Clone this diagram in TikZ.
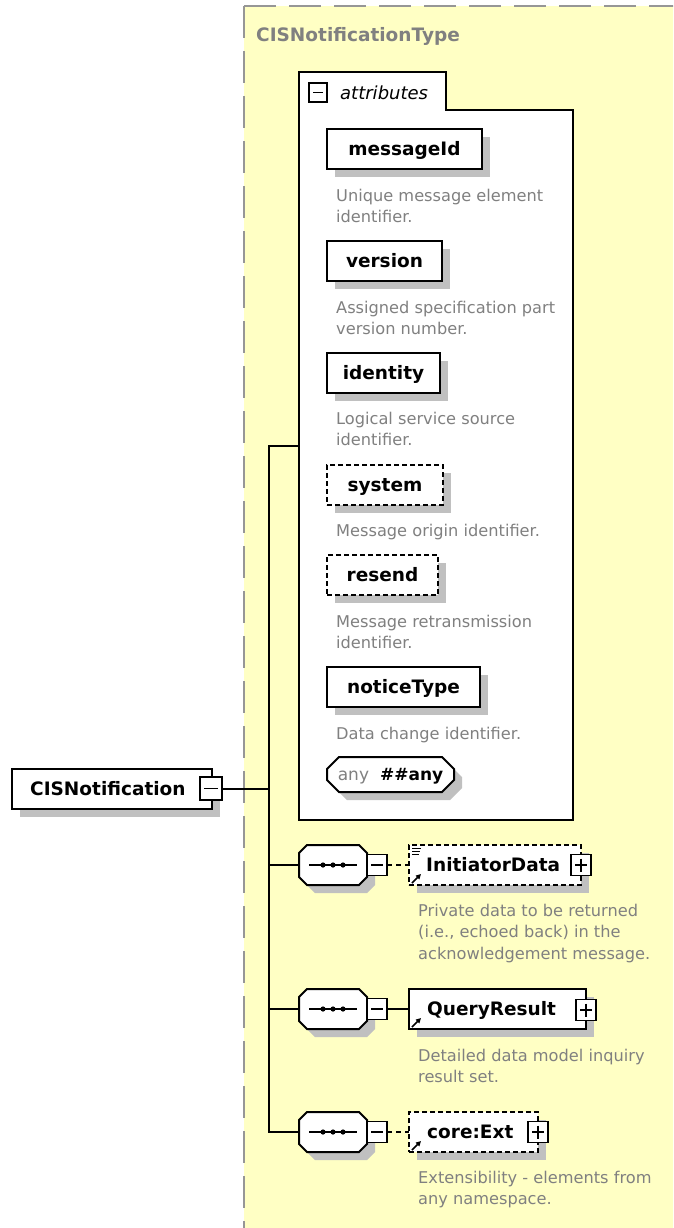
\documentclass[tikz,border=0pt]{standalone}
\usepackage{fontspec}
\setmainfont{DejaVu Sans}
\usetikzlibrary{shapes.misc,shadows,arrows.meta}

\definecolor{typebg}{RGB}{255,255,196}
\definecolor{typeframe}{RGB}{150,150,150}
\definecolor{shadegray}{RGB}{192,192,192}
\definecolor{notegray}{RGB}{128,128,128}

% multi-line annotations: the node's baseline is the first line's baseline
\newcommand\notetwo[2]{\vtop{\baselineskip=21.5pt\hbox{#1}\hbox{#2}}}
\newcommand\notethree[3]{\vtop{\baselineskip=21.5pt\hbox{#1}\hbox{#2}\hbox{#3}}}

% octagon outline around a rectangular node (#1 = node, #2 = corner cut)
\newcommand\octpath[2]{([xshift=#2]#1.north west) -- ([xshift=-#2]#1.north east)
  -- ([yshift=-#2]#1.north east) -- ([yshift=#2]#1.south east)
  -- ([xshift=-#2]#1.south east) -- ([xshift=#2]#1.south west)
  -- ([yshift=#2]#1.south west) -- ([yshift=-#2]#1.north west) -- cycle}

\tikzset{
  conn/.style={line width=2pt, draw=black},
  shade8/.style={drop shadow={shadow xshift=8pt, shadow yshift=-8pt, fill=shadegray, opacity=1}},
  elem/.style={draw=black, line width=2pt, fill=white, inner sep=0pt, outer sep=0pt, shade8},
  optional/.style={dash pattern=on 5pt off 3pt},
  tag/.style={font=\fontsize{18.5}{22}\selectfont\bfseries, text height=13.5pt, text depth=0pt, inner sep=0pt},
  note/.style={font=\fontsize{16.2}{21.5}\selectfont, text=notegray, inner sep=0pt, anchor=base west},
  sqbox/.style={draw=black, line width=1.5pt, fill=white, minimum width=20pt, minimum height=21pt, inner sep=0pt, outer sep=0pt},
  minusbox/.style={sqbox, path picture={
      \draw[black, line width=1.5pt] ([xshift=4pt]path picture bounding box.west) -- ([xshift=-4pt]path picture bounding box.east);}},
  plusbox/.style={sqbox, path picture={
      \draw[black, line width=1.5pt] ([xshift=4pt]path picture bounding box.west) -- ([xshift=-4pt]path picture bounding box.east);
      \draw[black, line width=1.5pt] ([yshift=-4pt]path picture bounding box.north) -- ([yshift=4pt]path picture bounding box.south);}},
  seqspot/.style={inner sep=0pt, outer sep=0pt, minimum width=68pt, minimum height=40pt},
  seqframe/.style={elem, path picture={
        \draw[black, line width=1.5pt] ([xshift=-24pt]path picture bounding box.center) -- ([xshift=24pt]path picture bounding box.center);
        \foreach \dx in {-10,0,10} \fill[black] ([xshift=\dx pt]path picture bounding box.center) circle (2.6pt);}},
  refarrow/.style={line width=1.6pt, -{Triangle[length=5pt,width=5pt]}},
}

\begin{document}
\begin{tikzpicture}[x=1pt, y=-1pt]
\useasboundingbox (0,0) rectangle (673,1228);
\clip (0,0) rectangle (673,1228);

% complex type area
\fill[typebg] (244,6) rectangle (690,1240);
\draw[typeframe, line width=2pt, dash pattern=on 32pt off 13pt] (244,6) -- (244,1240);
\draw[typeframe, line width=2pt, dash pattern=on 32pt off 13pt] (244,6) -- (690,6);
\node[tag, text=notegray, anchor=west] (typename) at (256,34.5) {CISNotificationType};

% attribute group
\node[inner sep=0pt, outer sep=0pt, minimum width=274pt, minimum height=748pt, anchor=north west] (attr) at (299,72) {};
\draw[line width=2pt, fill=white] (attr.north west) -- ++(147,0) -- ++(0,38) -| (attr.south east) -- (attr.south west) -- cycle;
\node[minusbox, minimum width=18pt, minimum height=19pt] (attrminus) at (318,92.5) {};
\node[font=\fontsize{18}{22}\selectfont\itshape, inner sep=0pt, anchor=west] (attrtitle) at (340,93) {attributes};

\node[elem, tag, minimum width=155pt, minimum height=40pt, anchor=north west] (msgid) at (327,129) {messageId};
\node[note] (msgidnote) at (336,201) {\notetwo{Unique message element}{identifier.}};

\node[elem, tag, minimum width=115pt, minimum height=40pt, anchor=north west] (version) at (327,241) {version};
\node[note] (versionnote) at (336,313) {\notetwo{Assigned specification part}{version number.}};

\node[elem, tag, minimum width=113pt, minimum height=40pt, anchor=north west] (identity) at (327,353) {identity};
\node[note] (identitynote) at (336,424) {\notetwo{Logical service source}{identifier.}};

\node[elem, optional, tag, minimum width=116pt, minimum height=40pt, anchor=north west] (system) at (327,465) {system};
\node[note] (systemnote) at (336,536) {Message origin identifier.};

\node[elem, optional, tag, minimum width=111pt, minimum height=40pt, anchor=north west] (resend) at (327,555) {resend};
\node[note] (resendnote) at (336,627) {\notetwo{Message retransmission}{identifier.}};

\node[elem, tag, minimum width=153pt, minimum height=40pt, anchor=north west] (notice) at (327,667) {noticeType};
\node[note] (noticenote) at (336,739) {Data change identifier.};

\node[elem, chamfered rectangle, chamfered rectangle xsep=6pt, chamfered rectangle ysep=6pt,
      minimum width=127pt, minimum height=35pt, font=\fontsize{17}{20}\selectfont, text height=12.5pt, text depth=0pt]
      (anyattr) at (390.5,774.5) {{\color{notegray}any}\hspace{11pt}{\bfseries\#\#any}};

% root element
\node[elem, minimum width=200pt, minimum height=40pt, anchor=north west] (root) at (12,769) {};
\node[tag, anchor=west] (roottext) at (30,789) {CISNotification};
\node[minusbox, minimum width=22pt, minimum height=23pt] (rootminus) at (211,788.5) {};

% sequence compositors
\node[seqspot] (seq1) at (333,865) {};
\draw[seqframe] \octpath{seq1}{8pt};
\node[minusbox, anchor=west] (seq1minus) at (seq1.east) {};
\node[seqspot] (seq2) at (333,1009) {};
\draw[seqframe] \octpath{seq2}{8pt};
\node[minusbox, anchor=west] (seq2minus) at (seq2.east) {};
\node[seqspot] (seq3) at (333,1132) {};
\draw[seqframe] \octpath{seq3}{8pt};
\node[minusbox, anchor=west] (seq3minus) at (seq3.east) {};

% child elements
\node[elem, optional, minimum width=172pt, minimum height=40pt, anchor=north west] (initbox) at (409,845) {};
\node[tag, anchor=west] (inittext) at (426,865) {InitiatorData};
\node[plusbox] (initplus) at (initbox.east) {};
\draw[line width=1pt] ([shift={(3,3)}]initbox.north west) -- ++(9,0)
                      ([shift={(3,6)}]initbox.north west) -- ++(8,0)
                      ([shift={(3,9)}]initbox.north west) -- ++(7,0);
\draw[refarrow] ([shift={(3,-2)}]initbox.south west) -- ++(9,-9);
\node[note] (initnote) at (418,916) {\notethree{Private data to be returned}{(i.e., echoed back) in the}{acknowledgement message.}};

\node[elem, minimum width=177pt, minimum height=40pt, anchor=north west] (qrbox) at (409,989) {};
\node[tag, anchor=west] (qrtext) at (427,1009) {QueryResult};
\node[plusbox] (qrplus) at ([yshift=-1pt]qrbox.east) {};
\draw[refarrow] ([shift={(3,-2)}]qrbox.south west) -- ++(9,-9);
\node[note] (qrnote) at (418,1061) {\notetwo{Detailed data model inquiry}{result set.}};

\node[elem, optional, minimum width=129pt, minimum height=40pt, anchor=north west] (extbox) at (409,1112) {};
\node[tag, anchor=west] (exttext) at (427,1132) {core:Ext};
\node[plusbox] (extplus) at (extbox.east) {};
\draw[refarrow] ([shift={(3,-2)}]extbox.south west) -- ++(9,-9);
\node[note] (extnote) at (418,1183) {\notetwo{Extensibility - elements from}{any namespace.}};

% connectors
\coordinate (spine) at (269,0);
\draw[conn] (attr.west) -- (attr.west -| spine) -- (spine |- seq3.west) -- (seq3.west);
\draw[conn] (rootminus.east) -- (rootminus.east -| spine);
\draw[conn] (seq1.west) -- (seq1.west -| spine);
\draw[conn] (seq2.west) -- (seq2.west -| spine);
\draw[conn, dash pattern=on 5pt off 4pt] (seq1minus.east) -- (initbox.west);
\draw[conn] (seq2minus.east) -- (qrbox.west);
\draw[conn, dash pattern=on 5pt off 4pt] (seq3minus.east) -- (extbox.west);
\end{tikzpicture}
\end{document}
